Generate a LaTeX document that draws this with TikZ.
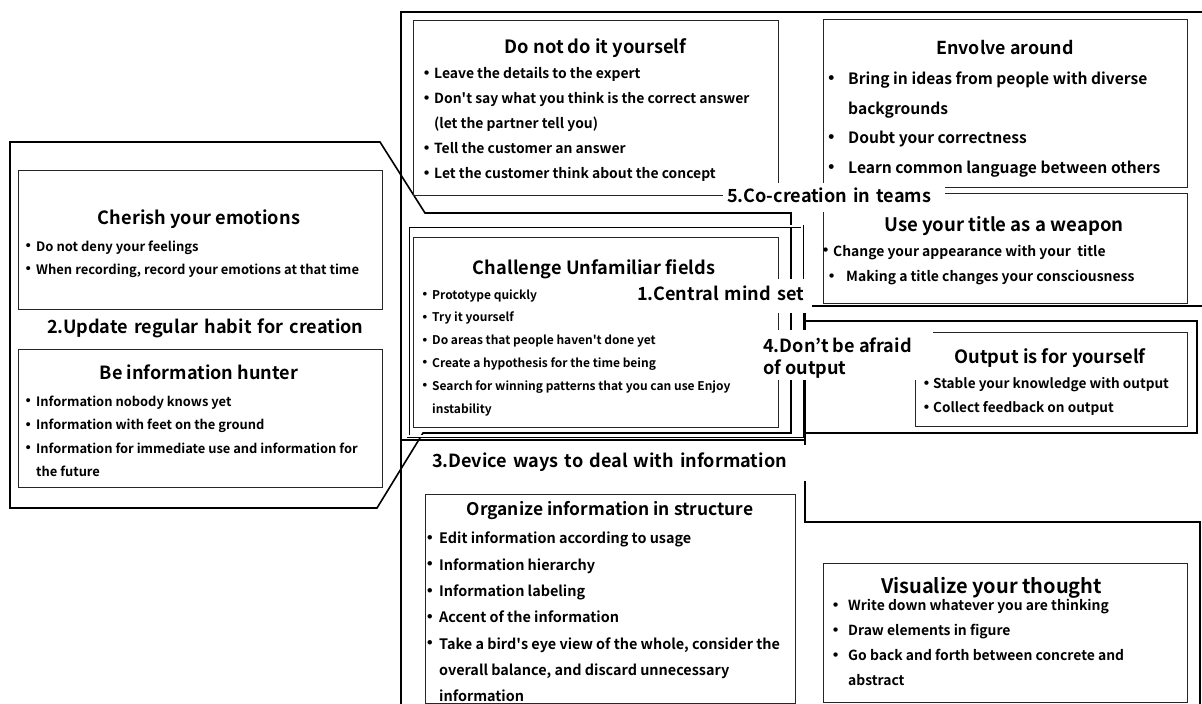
\documentclass[tikz,border=0pt]{standalone}
\usepackage{graphicx}
\usepackage{fontspec}
\setmainfont{Noto Sans CJK JP}[BoldFont={* Bold}]
\newcommand{\dt}[1]{\makebox[#1][c]{\raisebox{-0.2em}{\scalebox{1.6}{･}}}}
\newcommand{\sq}{\textquotesingle}
\newcommand{\bx}[5]{\node[box, minimum width={#4-#2}, minimum height={#5-#3}] (#1) at ({(#2+#4)/2},{(#3+#5)/2}) {};}
\tikzset{
  box/.style={draw=black!85, line width=0.9pt, inner sep=0pt, outer sep=0pt},
  grp/.style={draw=black, line width=1.6pt, line join=miter},
  grpdbl/.style={draw=black, line width=0.8pt, double=white, double distance=1.4pt},
  ttl/.style={font=\bfseries\fontsize{#1}{#1}\selectfont, anchor=base, inner sep=0pt},
  itm/.style={font=\bfseries\fontsize{#1}{#1}\selectfont, anchor=base west, inner sep=0pt},
  lbl/.style={fill=white, inner ysep=0pt, align=left, font=\bfseries\fontsize{18.1}{22}\selectfont,
    text height=1.04em, text depth=.1em},
  lbltxt/.style={anchor=base west, inner sep=0pt, font=\bfseries\fontsize{18.1}{22}\selectfont},
  lblbg/.style={fill=white, inner sep=0pt},
}
\begin{document}
\begin{tikzpicture}[x=1pt,y=-1pt]
\useasboundingbox (0,0) rectangle (1202,704);
% ---------- group outlines ----------
\draw[grp] (10,142) -- (380,142) -- (425,213) -- (791,213) -- (791,433) -- (423,433) -- (377,508) -- (10,508) -- cycle;
\draw[grp] (401,440) -- (401,12) -- (1208,12) -- (1208,306) -- (805,306) -- (805,440) -- cycle;
\draw[grp] (401,440) -- (805,440) -- (805,522) -- (1200,522) -- (1200,708) -- (401,708) -- cycle;
\draw[grp] (805,321) rectangle (1197,433);
\draw[grpdbl] (408,226) rectangle (802,436);
% ---------- boxes ----------
\bx{cherish}{18}{170}{382}{309}
\bx{hunter}{18}{349}{382}{487}
\bx{donot}{413}{20}{778}{195}
\bx{envolve}{823}{19}{1187}{187}
\bx{usetitle}{823}{193}{1187}{303}
\bx{challenge}{413}{237}{778}{427}
\bx{output}{915}{332}{1187}{426}
\bx{organize}{425}{494}{795}{703}
\bx{visualize}{823}{563}{1187}{702}
% ---------- titles ----------
\node[ttl=18.2] (t-cherish) at (199,224) {Cherish your emotions};
\node[ttl=18.1] (t-hunter) at (199,379) {Be information hunter};
\node[ttl=18.3] (t-donot) at (595.5,53) {Do not do it yourself};
\node[ttl=17.8] (t-envolve) at (1005,54) {Envolve around};
\node[ttl=18.6] (t-usetitle) at (1004,231) {Use your title as a weapon};
\node[ttl=18.2] (t-challenge) at (594,274) {Challenge Unfamiliar fields};
\node[ttl=18.3] (t-output) at (1050,363) {Output is for yourself};
\node[ttl=17.4] (t-organize) at (610,515.7) {Organize information in structure};
\node[ttl=20] (t-visualize) at (991.5,593.6) {Visualize your thought};
% ---------- items ----------
\node[itm=13] (i-ch1) at (20,251.3) {\dt{16pt}Do not deny your feelings};
\node[itm=13] (i-ch2) at (20,274.3) {\dt{16pt}When recording, record your emotions at that time};
\node[itm=12.9] (i-hu1) at (20,406.3) {\dt{16pt}Information nobody knows yet};
\node[itm=12.9] (i-hu2) at (20,429.8) {\dt{16pt}Information with feet on the ground};
\node[itm=12.9] (i-hu3) at (20,453.3) {\dt{16pt}Information for immediate use and information for};
\node[itm=12.9] (i-hu4) at (20,476.8) {\hspace{16pt}the future};
\node[itm=13.9] (i-dn1) at (420,78.6) {\dt{14pt}Leave the details to the expert};
\node[itm=13.9] (i-dn2) at (420,103.6) {\dt{14pt}Don\sq t say what you think is the correct answer};
\node[itm=13.9] (i-dn3) at (420,128.6) {\hspace{14pt}(let the partner tell you)};
\node[itm=13.9] (i-dn4) at (420,153.6) {\dt{14pt}Tell the customer an answer};
\node[itm=13.9] (i-dn5) at (420,178.6) {\dt{14pt}Let the customer think about the concept};
\node[itm=15.6] (i-en1) at (816,84.5) {\dt{32pt}Bring in ideas from people with diverse};
\node[itm=15.6] (i-en2) at (816,114) {\hspace{32pt}backgrounds};
\node[itm=15.6] (i-en3) at (816,143.5) {\dt{32pt}Doubt your correctness};
\node[itm=15.6] (i-en4) at (816,173) {\dt{32pt}Learn common language between others};
\node[itm=13.9] (i-ut1) at (819,256) {\dt{14pt}Change your appearance with your~ title};
\node[itm=13.9] (i-ut2) at (818,281.5) {\dt{28pt}Making a title changes your consciousness};
\node[itm=12] (i-cu1) at (418,299) {\dt{14pt}Prototype quickly};
\node[itm=12] (i-cu2) at (418,321.8) {\dt{14pt}Try it yourself};
\node[itm=12] (i-cu3) at (418,344.6) {\dt{14pt}Do areas that people haven\sq t done yet};
\node[itm=12] (i-cu4) at (418,367.4) {\dt{14pt}Create a hypothesis for the time being};
\node[itm=12] (i-cu5) at (418,390.2) {\dt{14pt}Search for winning patterns that you can use Enjoy};
\node[itm=12] (i-cu6) at (418,413) {\hspace{14pt}instability};
\node[itm=13.6] (i-ou1) at (921,388.5) {\dt{12pt}Stable your knowledge with output};
\node[itm=13.6] (i-ou2) at (921,412.5) {\dt{12pt}Collect feedback on output};
\node[itm=14.4] (i-or1) at (422,543.8) {\dt{17pt}Edit information according to usage};
\node[itm=14.4] (i-or2) at (422,570.1) {\dt{17pt}Information hierarchy};
\node[itm=14.4] (i-or3) at (422,596.4) {\dt{17pt}Information labeling};
\node[itm=14.4] (i-or4) at (422,622.7) {\dt{17pt}Accent of the information};
\node[itm=14.4] (i-or5) at (422,649) {\dt{17pt}Take a bird\sq s eye view of the whole, consider the};
\node[itm=14.4] (i-or6) at (422,675.3) {\hspace{17pt}overall balance, and discard unnecessary};
\node[itm=14.4] (i-or7) at (422,701.4) {\hspace{17pt}information};
\node[itm=13.9] (i-vi1) at (824,610.6) {\dt{24pt}Write down whatever you are thinking};
\node[itm=13.9] (i-vi2) at (824,635.6) {\dt{24pt}Draw elements in figure};
\node[itm=13.9] (i-vi3) at (824,660.6) {\dt{24pt}Go back and forth between concrete and};
\node[itm=13.9] (i-vi4) at (824,685.6) {\hspace{24pt}abstract};
% ---------- group labels ----------
\node[lbl, inner xsep=4pt, text width=214pt, minimum height=29pt] (l5) at (834,197.5) {\mbox{5.Co-creation in teams}};
\node[lbl, inner xsep=4pt, text width=171pt, minimum height=34pt] (l1) at (722.5,296) {\mbox{1.Central mind set}};
\node[lblbg, minimum width=175pt, minimum height=50pt] (l4bg) at (845.5,355) {};
\node[lbltxt] (l4a) at (763,352) {4.Don’t be afraid};
\node[lbltxt] (l4b) at (763,374.5) {of output};
\node[lbl, inner xsep=5pt, text width=371pt, minimum height=36pt] (l3) at (617.5,462.5) {\mbox{3.Device ways to deal with information}};
\node[lbl, inner xsep=5pt, text width=310pt, minimum height=30pt] (l2) at (202,328.5) {\mbox{2.Update regular habit for creation}};
\end{tikzpicture}
\end{document}
